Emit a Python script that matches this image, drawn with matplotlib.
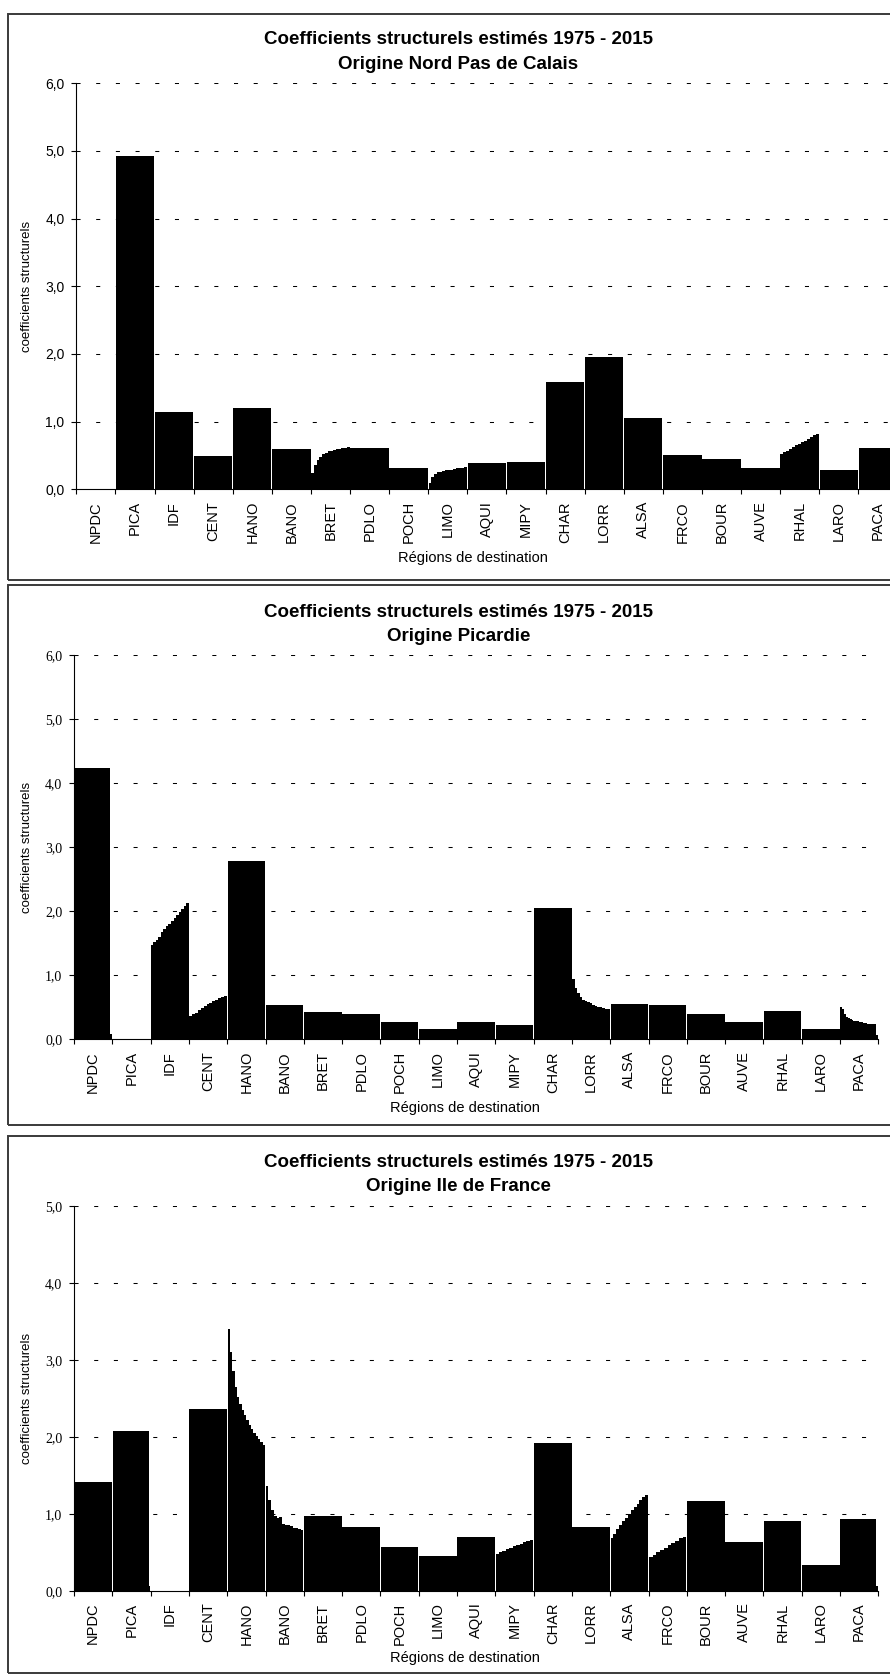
"""Coefficients structurels estimés 1975 - 2015, for three origin regions."""

import matplotlib

matplotlib.use("Agg")
import matplotlib.pyplot as plt
import numpy as np
from matplotlib.patches import Rectangle

REGIONS = ["NPDC", "PICA", "IDF", "CENT", "HANO", "BANO", "BRET", "PDLO", "POCH", "LIMO",
           "AQUI", "MIPY", "CHAR", "LORR", "ALSA", "FRCO", "BOUR", "AUVE", "RHAL", "LARO", "PACA"]

# one list per destination region: coefficients read left to right over 1975-2015
COEF_NPDC = [
    [0.0], [4.92], [1.14], [0.49], [1.20], [0.595],
    [0.24, 0.36, 0.44, 0.48, 0.52, 0.54, 0.56, 0.57, 0.58, 0.59, 0.60, 0.61, 0.61, 0.62],
    [0.605], [0.31],
    [0.10, 0.18, 0.22, 0.25, 0.26, 0.27, 0.28, 0.28, 0.29, 0.30, 0.31, 0.32, 0.32, 0.33],
    [0.39], [0.40], [1.585], [1.955], [1.06], [0.507], [0.45], [0.31],
    [0.52, 0.55, 0.57, 0.60, 0.62, 0.65, 0.67, 0.70, 0.72, 0.75, 0.77, 0.80, 0.82],
    [0.29], [0.605],
]
COEF_PICA = [
    [4.24] * 24 + [0.08], [0.0],
    [1.48, 1.52, 1.55, 1.60, 1.68, 1.72, 1.77, 1.80, 1.85, 1.89, 1.94, 1.99, 2.04, 2.09, 2.125],
    [0.37, 0.40, 0.41, 0.46, 0.49, 0.52, 0.55, 0.57, 0.60, 0.62, 0.64, 0.66, 0.68],
    [2.785], [0.535], [0.42], [0.39], [0.265], [0.16], [0.27], [0.22], [2.05],
    [0.95, 0.80, 0.72, 0.66, 0.62, 0.60, 0.58, 0.56, 0.54, 0.52, 0.51, 0.50, 0.49, 0.48, 0.47],
    [0.547], [0.53], [0.395], [0.27], [0.44], [0.16],
    [0.51, 0.47, 0.40, 0.35, 0.33, 0.31, 0.30, 0.29, 0.285, 0.28, 0.27, 0.265, 0.26, 0.25,
     0.245, 0.24, 0.24, 0.24, 0.24, 0.07],
]
COEF_IDF = [
    [1.413], [2.07] * 24 + [0.06], [0.0], [2.363],
    [3.40, 3.10, 2.85, 2.65, 2.52, 2.43, 2.35, 2.28, 2.22, 2.16, 2.10, 2.05, 2.01, 1.97, 1.93, 1.90],
    [1.36, 1.18, 1.05, 0.97, 0.95, 0.96, 0.87, 0.86, 0.85, 0.84, 0.82, 0.81, 0.80, 0.79],
    [0.975], [0.83], [0.57], [0.447], [0.70],
    [0.477, 0.50, 0.52, 0.54, 0.56, 0.575, 0.59, 0.61, 0.63, 0.645, 0.66],
    [1.917], [0.824],
    [0.68, 0.74, 0.80, 0.85, 0.90, 0.95, 1.00, 1.05, 1.09, 1.13, 1.18, 1.22, 1.25],
    [0.44, 0.47, 0.50, 0.53, 0.56, 0.59, 0.62, 0.65, 0.68, 0.70],
    [1.166], [0.633], [0.91], [0.334], [0.932] * 24 + [0.06],
]
ORIGINS = ["Nord Pas de Calais", "Picardie", "Ile de France"]
Y_MAX = [6, 6, 5]

TITLE = "Coefficients structurels estimés 1975 - 2015"
YLABEL = "coefficients structurels"
XLABEL = "Régions de destination"

W, H = 890, 1675
SANS = "Liberation Sans"
SERIF = "Liberation Serif"

# pixel layout: axes (left, right, top, bottom), frame (top, bottom), title baselines, xlabel pos
LAYOUT = [
    dict(axes=(76.3, 897.4, 83.3, 489.3), frame=(14, 580), title=(44.3, 69.3), xlab=(473, 558),
         tick_font=SANS),
    dict(axes=(74, 878.3, 655.3, 1039.3), frame=(584.7, 1125.3), title=(617.3, 641),
         xlab=(465, 1108.3), tick_font=SERIF),
    dict(axes=(74, 878.3, 1206, 1590.7), frame=(1136, 1673), title=(1167.3, 1191),
         xlab=(465, 1658.3), tick_font=SERIF),
]


def fx(x):
    return x / W


def fy(y):
    return 1 - y / H


def draw_panel(fig, layout, values, origin, ymax):
    left, right, top, bottom = layout["axes"]
    ax = fig.add_axes([fx(left), fy(bottom), (right - left) / W, (bottom - top) / H])

    # thin seam between neighbouring regions
    gap = 0.008
    for i, v in enumerate(values):
        edges = np.linspace(i + gap, i + 1 - gap, len(v) + 1)
        ax.stairs(v, edges, fill=True, color="black", linewidth=0, zorder=2)

    for y in range(1, ymax + 1):
        ax.axhline(y, color="black", lw=0.75, linestyle=(0, (3.9, 15)), zorder=1)

    ax.set_xlim(0, len(REGIONS))
    ax.set_ylim(0, ymax)
    for side in ("top", "right"):
        ax.spines[side].set_visible(False)
    for side in ("left", "bottom"):
        ax.spines[side].set_linewidth(0.8)
        ax.spines[side].set_color("black")

    ax.set_xticks(np.arange(len(REGIONS) + 1), [])
    centers = np.arange(len(REGIONS)) + 0.5
    ax.set_xticks(centers, REGIONS, minor=True, rotation=90, fontsize=10.5, family=SANS)
    ax.tick_params(axis="x", which="major", length=3.5, width=0.8, direction="out")
    ax.tick_params(axis="x", which="minor", length=0, pad=8.5)

    yticks = list(range(ymax + 1))
    ylabels = [f"{v:.1f}".replace(".", ",") for v in yticks]
    ax.set_yticks(yticks, ylabels, fontsize=10, family=layout["tick_font"])
    ax.tick_params(axis="y", length=3.5, width=0.8, direction="out", pad=5)

    # frame around the panel
    ftop, fbottom = layout["frame"]
    fig.add_artist(Rectangle((fx(8), fy(fbottom)), fx(900 - 8), (fbottom - ftop) / H,
                             transform=fig.transFigure, fill=False, edgecolor="#3a3a3a",
                             linewidth=1.4))

    t1, t2 = layout["title"]
    fig.text(fx(458.5), fy(t1), TITLE, ha="center", va="baseline", fontsize=13.5,
             fontweight="bold", family=SANS)
    fig.text(fx(458.5), fy(t2), f"Origine {origin}", ha="center", va="baseline",
             fontsize=13.5, fontweight="bold", family=SANS)

    fig.text(fx(27), fy((top + bottom) / 2), YLABEL, rotation=90, ha="center", va="center",
             fontsize=9.5, family=SANS)
    xl, yl = layout["xlab"]
    fig.text(fx(xl), fy(yl), XLABEL, ha="center", va="center", fontsize=10.5, family=SANS)
    return ax


def main():
    plt.rcParams["font.family"] = SANS
    fig = plt.figure(figsize=(W / 100, H / 100), dpi=100)
    for layout, values, origin, ymax in zip(LAYOUT, [COEF_NPDC, COEF_PICA, COEF_IDF], ORIGINS, Y_MAX):
        draw_panel(fig, layout, values, origin, ymax)
    fig.savefig("out.png", dpi=100, facecolor="white")
    plt.close(fig)


if __name__ == "__main__":
    main()
